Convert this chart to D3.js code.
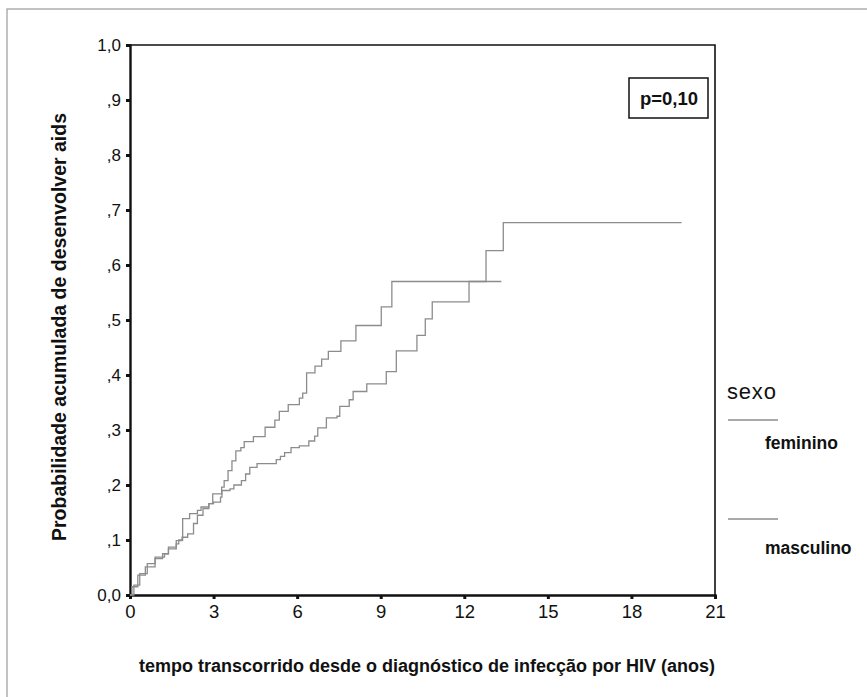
<!DOCTYPE html>
<html>
<head>
<meta charset="utf-8">
<script src="https://cdn.jsdelivr.net/npm/d3@7/dist/d3.min.js"></script>
<style>
  html, body { margin: 0; padding: 0; background: #fff; }
  svg { display: block; }
</style>
</head>
<body>
<svg id="chart" width="867" height="697"></svg>
<script>
// ---- data ----
const seriesNames = ["feminino", "masculino"];
const femTimes = [0, 0.14, 0.35, 0.62, 0.9, 1.24, 1.38, 1.66, 1.75, 1.89, 2.14, 2.42, 2.55, 2.83, 2.97, 3.29, 3.38, 3.52, 3.66, 3.8, 3.98, 4.1, 4.43, 4.85, 5.2, 5.36, 5.68, 6.08, 6.2, 6.34, 6.64, 6.88, 7.12, 7.57, 8.11, 9.02, 9.4, 13.33];
const femProbs = [0, 0.018, 0.039, 0.057, 0.069, 0.075, 0.084, 0.093, 0.1, 0.139, 0.148, 0.154, 0.16, 0.166, 0.184, 0.196, 0.208, 0.226, 0.244, 0.262, 0.268, 0.279, 0.288, 0.305, 0.318, 0.334, 0.346, 0.358, 0.367, 0.404, 0.416, 0.429, 0.443, 0.462, 0.49, 0.524, 0.570, 0.570];
const mascTimes = [0, 0.07, 0.28, 0.55, 0.9, 1.17, 1.38, 1.66, 1.87, 2.07, 2.28, 2.42, 2.62, 2.83, 3.0, 3.25, 3.3, 3.59, 3.73, 4.0, 4.15, 4.3, 4.56, 5.25, 5.4, 5.55, 5.78, 6.08, 6.42, 6.63, 6.74, 7.05, 7.43, 7.53, 7.87, 8.01, 8.5, 9.2, 9.56, 10.3, 10.6, 10.85, 12.17, 12.78, 13.4, 19.8];
const mascProbs = [0, 0.015, 0.036, 0.051, 0.066, 0.075, 0.087, 0.099, 0.105, 0.111, 0.13, 0.145, 0.157, 0.166, 0.169, 0.178, 0.19, 0.193, 0.2, 0.208, 0.22, 0.232, 0.239, 0.246, 0.252, 0.259, 0.268, 0.271, 0.28, 0.289, 0.304, 0.322, 0.325, 0.343, 0.355, 0.370, 0.384, 0.406, 0.444, 0.472, 0.502, 0.533, 0.570, 0.626, 0.677, 0.677];
const xTicks = [0, 3, 6, 9, 12, 15, 18, 21];
const yTicks = [0, 0.1, 0.2, 0.3, 0.4, 0.5, 0.6, 0.7, 0.8, 0.9, 1.0];
const yTickLabels = ["0,0", ",1", ",2", ",3", ",4", ",5", ",6", ",7", ",8", ",9", "1,0"];
const yTitle = "Probabilidade acumulada de desenvolver aids";
const xTitle = "tempo transcorrido desde o diagnóstico de infecção por HIV (anos)";
const pText = "p=0,10";
const legendTitle = "sexo";

// ---- layout ----
const svg = d3.select("#chart");
const x = d3.scaleLinear().domain([0, 21]).range([130, 715]);
const y = d3.scaleLinear().domain([0, 1]).range([595, 45]);
const lineColor = "#8c8c8c";

// outer frame
svg.append("rect").attr("x", 7).attr("y", 9).attr("width", 875).attr("height", 700)
  .attr("fill", "none").attr("stroke", "#9a9a9a").attr("stroke-width", 1.2);

// plot frame (top + right)
svg.append("path")
  .attr("d", `M${x(0)},${y(1)}H${x(21)}V${y(0)}`)
  .attr("fill", "none").attr("stroke", "#111").attr("stroke-width", 1.6);

// axes
const yAxis = d3.axisLeft(y).tickValues(yTicks).tickSize(4).tickPadding(5)
  .tickFormat((d, i) => yTickLabels[i]);
const gy = svg.append("g").attr("transform", `translate(${x(0)},0)`).call(yAxis);
gy.select(".domain").attr("stroke", "#111").attr("stroke-width", 2.4);
gy.selectAll(".tick line").attr("stroke", "#111").attr("stroke-width", 3);
gy.selectAll(".tick text").attr("font-family", "'Liberation Sans', Arial, sans-serif")
  .attr("font-size", 17).attr("fill", "#111");

const xAxis = d3.axisBottom(x).tickValues(xTicks).tickSize(4).tickPadding(6);
const gx = svg.append("g").attr("transform", `translate(0,${y(0)})`).call(xAxis);
gx.select(".domain").attr("stroke", "#111").attr("stroke-width", 2.4);
gx.selectAll(".tick line").attr("stroke", "#111").attr("stroke-width", 3);
gx.selectAll(".tick text").attr("font-family", "'Liberation Sans Narrow', 'Liberation Sans', Arial, sans-serif")
  .attr("font-size", 18.5).attr("fill", "#111");

// curves
const line = d3.line().x(d => x(d[0])).y(d => y(d[1])).curve(d3.curveStepAfter);
const femData = femTimes.map((t, i) => [t, femProbs[i]]);
const mascData = mascTimes.map((t, i) => [t, mascProbs[i]]);
[mascData, femData].forEach(data => {
  svg.append("path").datum(data).attr("d", line)
    .attr("fill", "none").attr("stroke", lineColor).attr("stroke-width", 1.3);
});

// p-value box
svg.append("rect").attr("x", 629).attr("y", 78).attr("width", 79).attr("height", 40)
  .attr("fill", "#fff").attr("stroke", "#111").attr("stroke-width", 1.5);
svg.append("text").attr("x", 669).attr("y", 105).attr("text-anchor", "middle")
  .attr("font-family", "'Liberation Sans', Arial, sans-serif").attr("font-weight", "bold")
  .attr("font-size", 18.5).attr("fill", "#111").text(pText);

// axis titles
svg.append("text").attr("transform", "translate(66,327) rotate(-90)")
  .attr("text-anchor", "middle")
  .attr("font-family", "'Liberation Sans', Arial, sans-serif").attr("font-weight", "bold")
  .attr("font-size", 19.5).attr("fill", "#111").text(yTitle);
svg.append("text").attr("x", 427).attr("y", 672).attr("text-anchor", "middle")
  .attr("font-family", "'Liberation Sans Narrow', 'Liberation Sans', Arial, sans-serif").attr("font-weight", "bold")
  .attr("font-size", 18).attr("fill", "#111").text(xTitle);

// legend
svg.append("text").attr("x", 727).attr("y", 399)
  .attr("font-family", "'Liberation Sans', Arial, sans-serif")
  .attr("font-size", 22).attr("letter-spacing", 0.8).attr("fill", "#111").text(legendTitle);
const legY = [420, 519];
const legTextY = [449, 554];
seriesNames.forEach((name, i) => {
  svg.append("line").attr("x1", 728).attr("x2", 778).attr("y1", legY[i]).attr("y2", legY[i])
    .attr("stroke", lineColor).attr("stroke-width", 1.3);
  svg.append("text").attr("x", 765).attr("y", legTextY[i])
    .attr("font-family", "'Liberation Sans', Arial, sans-serif").attr("font-weight", "bold")
    .attr("font-size", 17.5).attr("fill", "#111").text(name);
});
</script>
</body>
</html>
